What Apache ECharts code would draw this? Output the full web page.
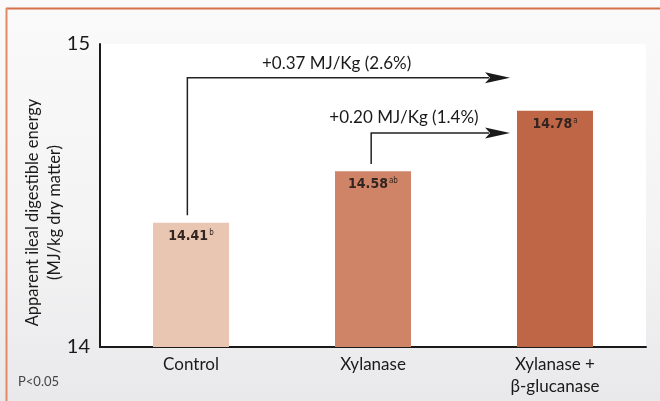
<!DOCTYPE html>
<html><head><meta charset="utf-8">
<script src="https://cdn.jsdelivr.net/npm/echarts@6/dist/echarts.min.js"></script>
<style>html,body{margin:0;padding:0;}#c{width:660px;height:401px;}</style>
</head><body><div id="c"></div>
<script>
// Data
const categories = ['Control', 'Xylanase', 'Xylanase +\nβ-glucanase'];
const energyValues = [14.41, 14.58, 14.78];
const sigLetters = ['b', 'ab', 'a'];
const yTicks = [14, 15];
const arrowLabels = ['+0.37 MJ/Kg (2.6%)', '+0.20 MJ/Kg (1.4%)'];
const arrowStartX = [-0.02, 0.99];   // category-position of vertical leg
const arrowStartY = [14.435, 14.604]; // bottom of vertical leg
const arrowTurnY = [14.889, 14.706];  // level of horizontal leg
const arrowEndX = [1.753, 1.753];     // arrow tip (category-position)
const arrowLabelX = [0.80, 1.17];
const arrowLabelY = [14.937, 14.759];

const barColors = ['#e9c6b2', '#cf8467', '#bf6646'];
const chart = echarts.init(document.getElementById('c'));

const arrowData = arrowLabels.map((t, i) => [arrowStartX[i], arrowStartY[i], arrowTurnY[i], arrowEndX[i], arrowLabelX[i], arrowLabelY[i], i]);
const numFont = "'DejaVu Sans Condensed', 'Roboto Condensed', Roboto, sans-serif";

chart.setOption({
  animation: false,
  backgroundColor: 'transparent',
  graphic: [
    { type: 'rect', z: -10, shape: { x: 0, y: 0, width: 660, height: 401 },
      style: { fill: new echarts.graphic.LinearGradient(0, 0, 0, 1, [{offset: 0, color: '#fafafa'}, {offset: 0.6, color: '#f3f3f4'}, {offset: 1, color: '#e9e9eb'}]) } },
    { type: 'line', z: 10, shape: { x1: 6, y1: 8.5, x2: 660, y2: 8.5 }, style: { stroke: '#d4714b', lineWidth: 2 } },
    { type: 'line', z: 10, shape: { x1: 6.5, y1: 8, x2: 6.5, y2: 401 }, style: { stroke: '#e08a66', lineWidth: 2 } },
    { type: 'text', left: 18, top: 375, style: { text: 'P<0.05', fontSize: 13, fill: '#444', fontFamily: 'Lato' } }
  ],
  grid: { left: 100, right: 14, top: 44, bottom: 54, show: true, backgroundColor: '#ffffff', borderWidth: 0 },
  xAxis: [
    { type: 'category', data: categories,
      axisLine: { lineStyle: { color: '#1a1a1a', width: 2 } },
      axisTick: { show: false },
      axisLabel: { color: '#1a1a1a', fontSize: 17, fontFamily: 'Lato', margin: 7, lineHeight: 22 } },
    { type: 'value', min: -0.5, max: 2.5, show: false }
  ],
  yAxis: {
    type: 'value', min: yTicks[0], max: yTicks[1], interval: 1,
    name: 'Apparent ileal digestible energy\n(MJ/kg dry matter)',
    nameLocation: 'middle', nameGap: 34, nameRotate: 90, nameMoveOverlap: false,
    nameTextStyle: { fontSize: 16.5, color: '#1a1a1a', fontFamily: 'Lato', lineHeight: 22, padding: [0, 34, 0, 0] },
    axisLine: { show: true, onZero: false, lineStyle: { color: '#1a1a1a', width: 2 } },
    axisTick: { show: false }, splitLine: { show: false },
    axisLabel: { color: '#1a1a1a', fontSize: 20, fontFamily: 'Lato', margin: 10 }
  },
  series: [
    { type: 'bar', barWidth: 76,
      data: energyValues.map((v, i) => ({ value: v, itemStyle: { color: barColors[i] },
        label: { show: true, position: 'insideTop', distance: 6,
          formatter: '{v|' + v.toFixed(2) + '}{s|' + sigLetters[i] + '}',
          rich: { v: { fontSize: 14, fontFamily: numFont, fontWeight: 'bold', color: '#33241f' },
                  s: { fontSize: 8, fontFamily: numFont, color: '#33241f', padding: [0, 0, 7, 1] } } } }))
    },
    { type: 'custom', xAxisIndex: 1, yAxisIndex: 0, data: arrowData, z: 5,
      renderItem: function (params, api) {
        const p0 = api.coord([api.value(0), api.value(1)]);
        const p1 = api.coord([api.value(0), api.value(2)]);
        const p2 = api.coord([api.value(3), api.value(2)]);
        const pl = api.coord([api.value(4), api.value(5)]);
        const idx = api.value(6);
        const hl = 25, hw = 5.5;
        const tip = p2[0], y = p2[1];
        return { type: 'group', children: [
          { type: 'polyline', shape: { points: [p0, p1, [tip - hl + 4, y]] }, style: { stroke: '#222', lineWidth: 1.5, fill: null } },
          { type: 'polygon', shape: { points: [[tip, y], [tip - hl, y - hw], [tip - hl + 5, y], [tip - hl, y + hw]] }, style: { fill: '#1a1a1a' } },
          { type: 'text', style: { text: arrowLabels[idx], x: pl[0], y: pl[1], align: 'center', verticalAlign: 'middle', fontSize: 17, fontFamily: 'Lato', fill: '#1a1a1a' } }
        ] };
      }
    }
  ]
});
</script></body></html>
